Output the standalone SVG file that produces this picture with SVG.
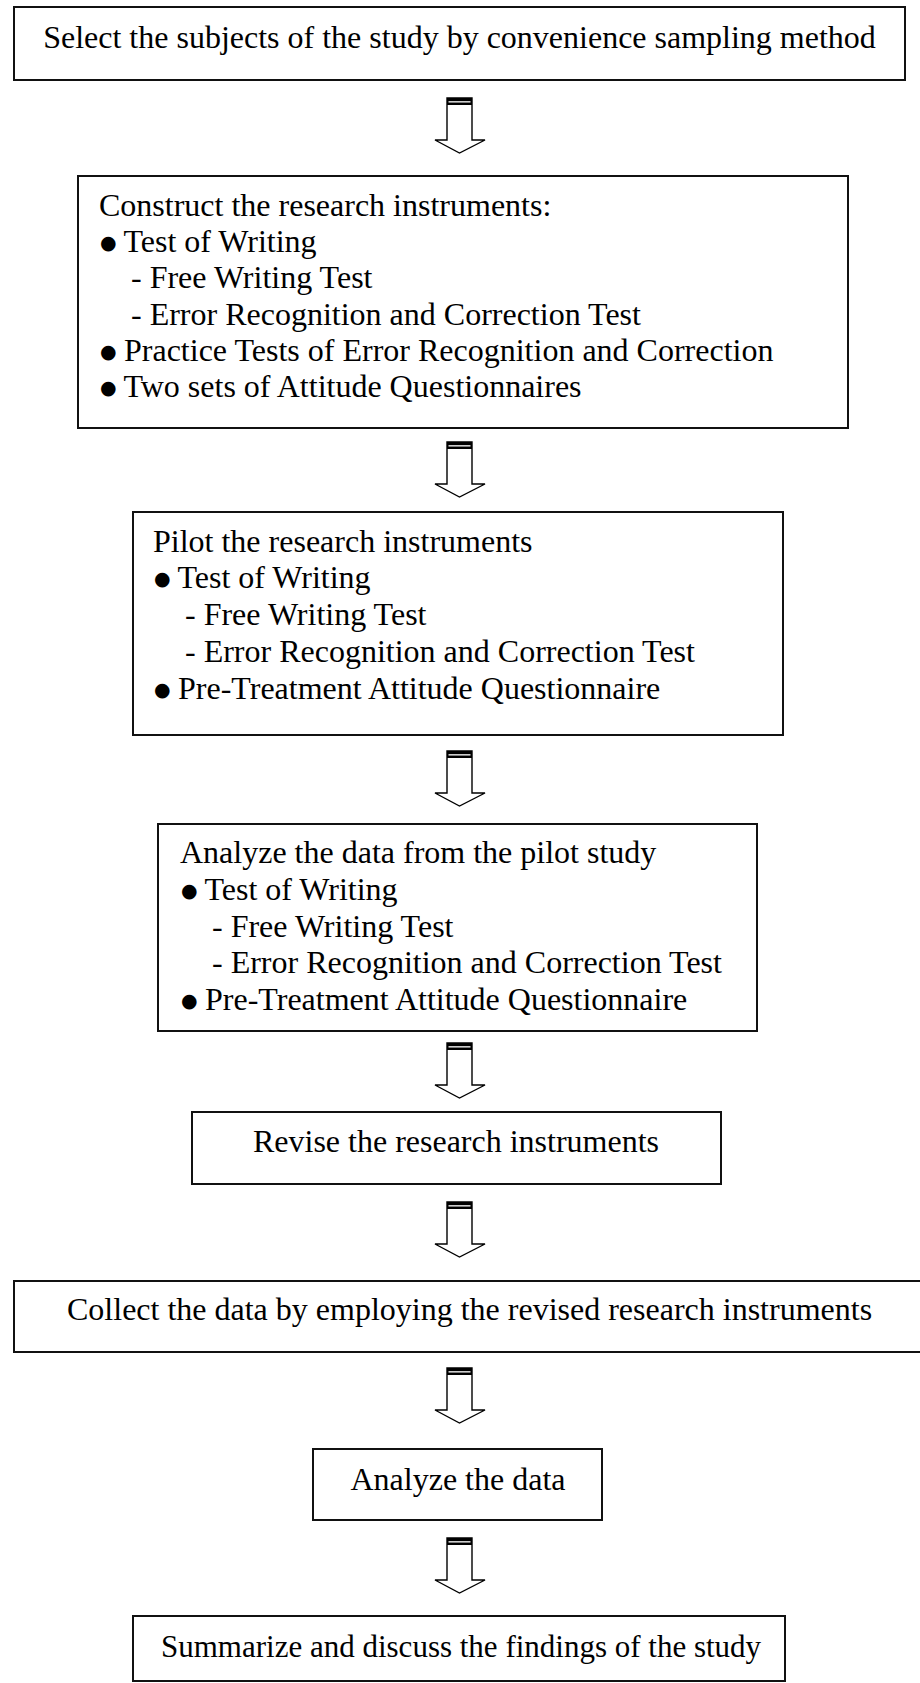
<svg xmlns="http://www.w3.org/2000/svg" xmlns:xlink="http://www.w3.org/1999/xlink" width="920" height="1683" viewBox="0 0 920 1683">
<style>
.box{fill:#fff;stroke:#111;stroke-width:2}
text{font-family:"Liberation Serif","Times New Roman",serif;font-size:32px;fill:#000}
.b{font-family:"DejaVu Sans",sans-serif;font-size:19px}
.c{text-anchor:middle}
.ah{fill:#fff;stroke:#000;stroke-width:1.4;stroke-linejoin:miter}
</style>
<defs>
<g id="arrow">
<polygon class="ah" points="447,0 472,0 472,42 485,42 459.5,55 435,42 447,42"/>
<rect x="447" y="0" width="25" height="7" fill="#000"/>
<rect x="448.5" y="3.2" width="22" height="1.3" fill="#fff"/>
</g>
</defs>
<rect width="920" height="1683" fill="#fff"/>
<g id="connectors">
<use xlink:href="#arrow" transform="translate(0,98)"/>
<use xlink:href="#arrow" transform="translate(0,442)"/>
<use xlink:href="#arrow" transform="translate(0,751)"/>
<use xlink:href="#arrow" transform="translate(0,1043)"/>
<use xlink:href="#arrow" transform="translate(0,1202)"/>
<use xlink:href="#arrow" transform="translate(0,1368)"/>
<use xlink:href="#arrow" transform="translate(0,1538)"/>
</g>
<g id="n1">
<rect class="box" x="14" y="7" width="891" height="73"/>
<text class="c" x="459.5" y="48">Select the subjects of the study by convenience sampling method</text>
</g>
<g id="n2">
<rect class="box" x="78" y="176" width="770" height="252"/>
<text x="99" y="216">Construct the research instruments:</text>
<text y="252"><tspan class="b" x="100" dy="-3">●</tspan><tspan x="116" dy="3"> Test of Writing</tspan></text>
<text x="131" y="288">- Free Writing Test</text>
<text x="131" y="325">- Error Recognition and Correction Test</text>
<text y="361"><tspan class="b" x="100" dy="-3">●</tspan><tspan x="116" dy="3"> Practice Tests of Error Recognition and Correction</tspan></text>
<text y="397"><tspan class="b" x="100" dy="-3">●</tspan><tspan x="116" dy="3"> Two sets of Attitude Questionnaires</tspan></text>
</g>
<g id="n3">
<rect class="box" x="133" y="512" width="650" height="223"/>
<text x="153" y="552">Pilot the research instruments</text>
<text y="588"><tspan class="b" x="154" dy="-3">●</tspan><tspan x="170" dy="3"> Test of Writing</tspan></text>
<text x="185" y="625">- Free Writing Test</text>
<text x="185" y="662">- Error Recognition and Correction Test</text>
<text y="699"><tspan class="b" x="154" dy="-3">●</tspan><tspan x="170" dy="3"> Pre-Treatment Attitude Questionnaire</tspan></text>
</g>
<g id="n4">
<rect class="box" x="158" y="824" width="599" height="207"/>
<text x="180" y="863">Analyze the data from the pilot study</text>
<text y="900"><tspan class="b" x="181" dy="-3">●</tspan><tspan x="197" dy="3"> Test of Writing</tspan></text>
<text x="212" y="937">- Free Writing Test</text>
<text x="212" y="973">- Error Recognition and Correction Test</text>
<text y="1010"><tspan class="b" x="181" dy="-3">●</tspan><tspan x="197" dy="3"> Pre-Treatment Attitude Questionnaire</tspan></text>
</g>
<g id="n5">
<rect class="box" x="192" y="1112" width="529" height="72"/>
<text class="c" x="456" y="1152">Revise the research instruments</text>
</g>
<g id="n6">
<rect class="box" x="14" y="1281" width="930" height="71"/>
<text x="67" y="1320">Collect the data by employing the revised research instruments</text>
</g>
<g id="n7">
<rect class="box" x="313" y="1449" width="289" height="71"/>
<text class="c" x="458" y="1490">Analyze the data</text>
</g>
<g id="n8">
<rect class="box" x="133" y="1616" width="652" height="65"/>
<text x="161" y="1657" style="font-size:31px">Summarize and discuss the findings of the study</text>
</g>
</svg>
